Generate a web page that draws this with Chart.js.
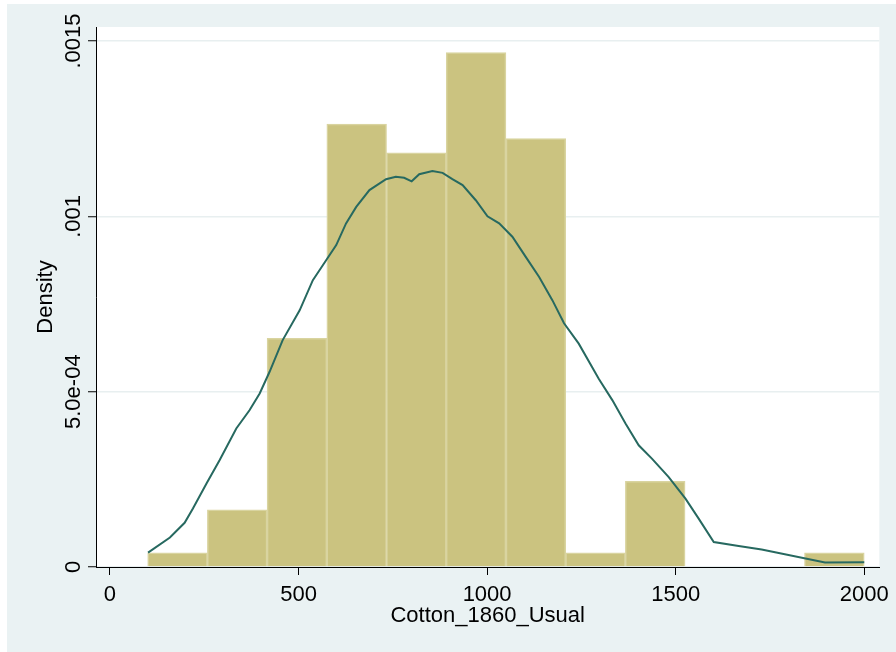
<!DOCTYPE html>
<html>
<head>
<meta charset="utf-8">
<script src="https://cdn.jsdelivr.net/npm/chart.js@4.4.0/dist/chart.umd.min.js"></script>
<style>
  body { margin: 0; background: #fff; }
  canvas { display: block; }
</style>
</head>
<body>
<canvas id="histChart" width="896" height="652"></canvas>
<script>
// histogram bins (centres of 12 bins between 100 and 2000) and their densities
const binCenters = [179.2, 337.5, 495.8, 654.2, 812.5, 970.8, 1129.2, 1287.5, 1445.8, 1604.2, 1762.5, 1920.8];
const binDensity = [0.0000407, 0.000163, 0.000652, 0.001263, 0.001181, 0.001467, 0.001222, 0.0000407, 0.000244, 0, 0, 0.0000407];

// kernel density curve
const kdeX = [101, 159, 198, 220, 256, 291, 335, 370, 397, 423, 458, 503, 538, 556, 600, 626, 653, 688, 732, 758, 780, 800, 820, 855, 882, 908, 935, 970, 1001, 1032, 1067, 1102, 1138, 1173, 1204, 1243, 1296, 1332, 1367, 1402, 1437, 1481, 1526, 1561, 1601, 1667, 1728, 1896, 2000];
const kdeY = [0.000041, 0.000084, 0.000126, 0.000167, 0.000238, 0.000305, 0.000395, 0.000447, 0.000495, 0.000556, 0.000647, 0.000732, 0.000818, 0.000847, 0.000918, 0.000980, 0.001027, 0.001075, 0.001106, 0.001113, 0.001110, 0.001100, 0.001120, 0.001129, 0.001124, 0.001106, 0.001089, 0.001046, 0.001000, 0.000980, 0.000942, 0.000885, 0.000827, 0.000761, 0.000695, 0.000637, 0.000537, 0.000476, 0.000409, 0.000347, 0.000309, 0.000257, 0.000195, 0.000138, 0.000071, 0.000060, 0.000050, 0.0000126, 0.0000134];

const xTicks = [0, 500, 1000, 1500, 2000];
const yTicks = [0, 0.0005, 0.001, 0.0015];
const yTickLabels = ['0', '5.0e-04', '.001', '.0015'];

const fontFamily = '"Liberation Sans", Arial, sans-serif';

const background = {
    id: 'background',
    beforeDraw(chart) {
        const { ctx, chartArea } = chart;
        ctx.save();
        ctx.fillStyle = '#ffffff';
        ctx.fillRect(0, 0, chart.width, chart.height);
        ctx.fillStyle = '#eaf2f3';
        ctx.fillRect(7, 4, chart.width - 7, chart.height - 4);
        ctx.fillStyle = '#ffffff';
        ctx.fillRect(chartArea.left, chartArea.top, chartArea.right - chartArea.left, chartArea.bottom - chartArea.top);
        ctx.restore();
    }
};

// y tick labels are vertical in the original, so they are drawn here
const yLabels = {
    id: 'yLabels',
    afterDraw(chart) {
        const { ctx } = chart;
        const yScale = chart.scales.y;
        ctx.save();
        ctx.font = '22px ' + fontFamily;
        ctx.fillStyle = '#000';
        ctx.textAlign = 'center';
        ctx.textBaseline = 'alphabetic';
        yTicks.forEach((v, i) => {
            ctx.save();
            ctx.translate(80, yScale.getPixelForValue(v));
            ctx.rotate(-Math.PI / 2);
            ctx.fillText(yTickLabels[i], 0, 0);
            ctx.restore();
        });
        ctx.restore();
    }
};

new Chart('histChart', {
    data: {
        datasets: [
            {
                type: 'line',
                data: kdeX.map((x, i) => ({ x: x, y: kdeY[i] })),
                borderColor: '#276960',
                borderWidth: 2,
                pointRadius: 0,
                tension: 0,
                fill: false
            },
            {
                type: 'bar',
                data: binCenters.map((x, i) => ({ x: x, y: binDensity[i] })),
                backgroundColor: '#cbc380',
                borderColor: '#d9d4a0',
                borderWidth: 1.5,
                barPercentage: 1,
                categoryPercentage: 1
            }
        ]
    },
    options: {
        responsive: false,
        animation: false,
        layout: { padding: { top: 27, right: 15, left: 0, bottom: 0 } },
        plugins: { legend: { display: false }, tooltip: { enabled: false } },
        scales: {
            x: {
                type: 'linear',
                min: -37,
                max: 2040,
                offset: false,
                z: 1,
                afterBuildTicks: s => { s.ticks = xTicks.map(v => ({ value: v })); },
                afterFit: s => { s.height = 85; },
                grid: { offset: false, drawOnChartArea: false, tickLength: 8, tickColor: '#000', tickWidth: 1 },
                border: { color: '#000', width: 1 },
                ticks: { color: '#000', padding: 7, maxRotation: 0, font: { family: fontFamily, size: 22 }, callback: v => String(v) },
                title: { display: true, text: 'Cotton_1860_Usual', color: '#000', font: { family: fontFamily, size: 22 }, padding: { top: 0, bottom: 23 } }
            },
            y: {
                min: 0,
                max: 0.00154,
                afterBuildTicks: s => { s.ticks = yTicks.map(v => ({ value: v })); },
                afterFit: s => { s.width = 96; },
                grid: { color: '#e8eff0', lineWidth: 1.5, tickLength: 8, tickColor: '#000', tickWidth: 1 },
                border: { color: '#000', width: 1 },
                ticks: { display: false },
                title: { display: true, text: 'Density', color: '#000', font: { family: fontFamily, size: 22 }, padding: { top: 33, bottom: 0 } }
            }
        }
    },
    plugins: [background, yLabels]
});
</script>
</body>
</html>
